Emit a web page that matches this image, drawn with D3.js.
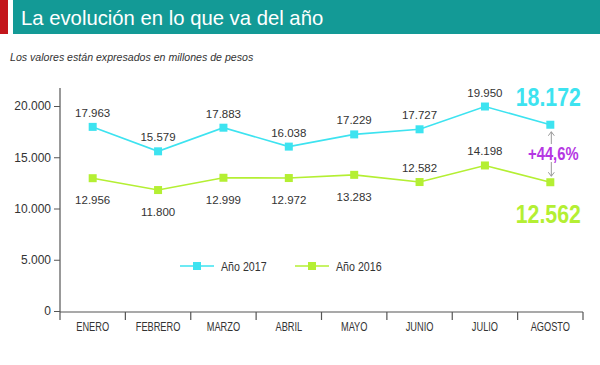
<!DOCTYPE html>
<html><head><meta charset="utf-8">
<script src="https://cdn.jsdelivr.net/npm/d3@7/dist/d3.min.js"></script>
<style>
body{margin:0;background:#fff;}
svg{display:block;}
text{font-family:"Liberation Sans",Arial,sans-serif;}
</style></head>
<body>
<svg id="chart" width="600" height="365"></svg>
<script>
const months = ["ENERO","FEBRERO","MARZO","ABRIL","MAYO","JUNIO","JULIO","AGOSTO"];
const values2017 = [17963,15579,17883,16038,17229,17727,19950,18172];
const values2016 = [12956,11800,12999,12972,13283,12582,14198,12562];
const labels2017 = ["17.963","15.579","17.883","16.038","17.229","17.727","19.950","18.172"];
const labels2016 = ["12.956","11.800","12.999","12.972","13.283","12.582","14.198","12.562"];
const yTicks = [0,5000,10000,15000,20000];
const yTickLabels = ["0","5.000","10.000","15.000","20.000"];
const seriesNames = ["Año 2017","Año 2016"];
const changeLabel = "+44,6%";

const c2017 = "#3de3f0", c2016 = "#b4ef33";
const svg = d3.select("#chart");

// narrow text helper (condensed look)
function ntext(sel, xx, yy, txt, opts){
  const g = sel.append("g").attr("transform",`translate(${xx},${yy}) scale(${opts.sx||0.82},1)`);
  const t = g.append("text").attr("x",0).attr("y",0).text(txt)
    .attr("font-size",opts.size).attr("fill",opts.fill||"#333")
    .attr("text-anchor",opts.anchor||"start");
  if(opts.weight) t.attr("font-weight",opts.weight);
  return t;
}

// header
svg.append("rect").attr("x",0).attr("y",0).attr("width",8).attr("height",34).attr("fill","#c3161c");
svg.append("rect").attr("x",13).attr("y",0).attr("width",587).attr("height",34).attr("fill","#139a96");
svg.append("text").attr("x",21).attr("y",25).attr("fill","#fff")
  .attr("font-size",20.3).text("La evolución en lo que va del año");
svg.append("text").attr("x",10).attr("y",61).attr("fill","#333")
  .attr("font-size",10.6).attr("font-style","italic")
  .text("Los valores están expresados en millones de pesos");

const x = d3.scaleBand().domain(months).range([60,583]);
const y = d3.scaleLinear().domain([0,20000]).range([311,106]);
const cx = m => x(m) + x.bandwidth()/2;

// y axis
const yAxis = d3.axisLeft(y).tickValues(yTicks).tickFormat((d,i)=>yTickLabels[i]).tickSize(6).tickPadding(3);
const gy = svg.append("g").attr("transform","translate(60,0)").call(yAxis);
gy.select(".domain").remove();
gy.selectAll("line").attr("stroke","#555");
gy.selectAll("text").attr("font-family","Liberation Sans, Arial, sans-serif").attr("font-size",12).attr("fill","#333");
svg.append("line").attr("x1",60).attr("x2",60).attr("y1",88).attr("y2",y(0)+1).attr("stroke","#555").attr("stroke-width",1.2);

// x axis
svg.append("line").attr("x1",60).attr("x2",583).attr("y1",y(0)+1).attr("y2",y(0)+1).attr("stroke","#555").attr("stroke-width",1.2);
const bounds = months.map(m=>x(m)).concat([x(months[months.length-1])+x.bandwidth()]);
svg.selectAll(".xt").data(bounds).enter().append("line")
  .attr("x1",d=>d).attr("x2",d=>d).attr("y1",y(0)+1).attr("y2",y(0)+9).attr("stroke","#555").attr("stroke-width",1.2);
months.forEach(m=>ntext(svg, cx(m), 330.5, m, {size:12, sx:0.77, anchor:"middle"}));

// lines
const line = d3.line().x(d=>cx(d.m)).y(d=>y(d.v));
const s2017 = months.map((m,i)=>({m,v:values2017[i],l:labels2017[i]}));
const s2016 = months.map((m,i)=>({m,v:values2016[i],l:labels2016[i]}));
[[s2017,c2017],[s2016,c2016]].forEach(([s,c])=>{
  svg.append("path").datum(s).attr("d",line).attr("fill","none").attr("stroke",c).attr("stroke-width",1.6);
  svg.selectAll(null).data(s).enter().append("rect")
    .attr("x",d=>cx(d.m)-4).attr("y",d=>y(d.v)-4).attr("width",8).attr("height",8).attr("fill",c);
});

// value labels
svg.selectAll(null).data(s2017.slice(0,7)).enter().append("text")
  .attr("x",d=>cx(d.m)).attr("y",d=>y(d.v)-10).attr("text-anchor","middle")
  .attr("font-size",11.5).attr("fill","#333").text(d=>d.l);
const above2016 = ["JUNIO","JULIO"];
svg.selectAll(null).data(s2016.slice(0,7)).enter().append("text")
  .attr("x",d=>cx(d.m)).attr("y",d=>above2016.includes(d.m) ? y(d.v)-10 : y(d.v)+26).attr("text-anchor","middle")
  .attr("font-size",11.5).attr("fill","#333").text(d=>d.l);

// highlighted last values
const last = months.length-1;
ntext(svg, cx(months[last])-2, y(values2017[last])-19, labels2017[last], {size:26, weight:"bold", fill:c2017, anchor:"middle"});
ntext(svg, cx(months[last])-2, y(values2016[last])+41, labels2016[last], {size:26, weight:"bold", fill:c2016, anchor:"middle"});

// double arrow
const ax = cx(months[last])+1;
const ay1 = y(values2017[last])+7, ay2 = y(values2016[last])-6;
svg.append("line").attr("x1",ax).attr("x2",ax).attr("y1",ay1).attr("y2",ay2).attr("stroke","#999").attr("stroke-width",1);
svg.append("path").attr("d",`M${ax-3},${ay1+4}L${ax},${ay1}L${ax+3},${ay1+4}`).attr("fill","none").attr("stroke","#999");
svg.append("path").attr("d",`M${ax-3},${ay2-4}L${ax},${ay2}L${ax+3},${ay2-4}`).attr("fill","none").attr("stroke","#999");
svg.append("rect").attr("x",ax-27).attr("y",(ay1+ay2)/2-10).attr("width",54).attr("height",18).attr("fill","#fff");
ntext(svg, ax+2, (ay1+ay2)/2+6, changeLabel, {size:18, weight:"bold", fill:"#b536e3", anchor:"middle"});

// legend
const legend = [{n:seriesNames[0],c:c2017,x:180},{n:seriesNames[1],c:c2016,x:295}];
legend.forEach(d=>{
  const g = svg.append("g").attr("transform",`translate(${d.x},266)`);
  g.append("line").attr("x1",0).attr("x2",34).attr("stroke",d.c).attr("stroke-width",1.6);
  g.append("rect").attr("x",13).attr("y",-4).attr("width",8).attr("height",8).attr("fill",d.c);
  ntext(g, 41, 5, d.n, {size:13});
});
</script>
</body></html>
